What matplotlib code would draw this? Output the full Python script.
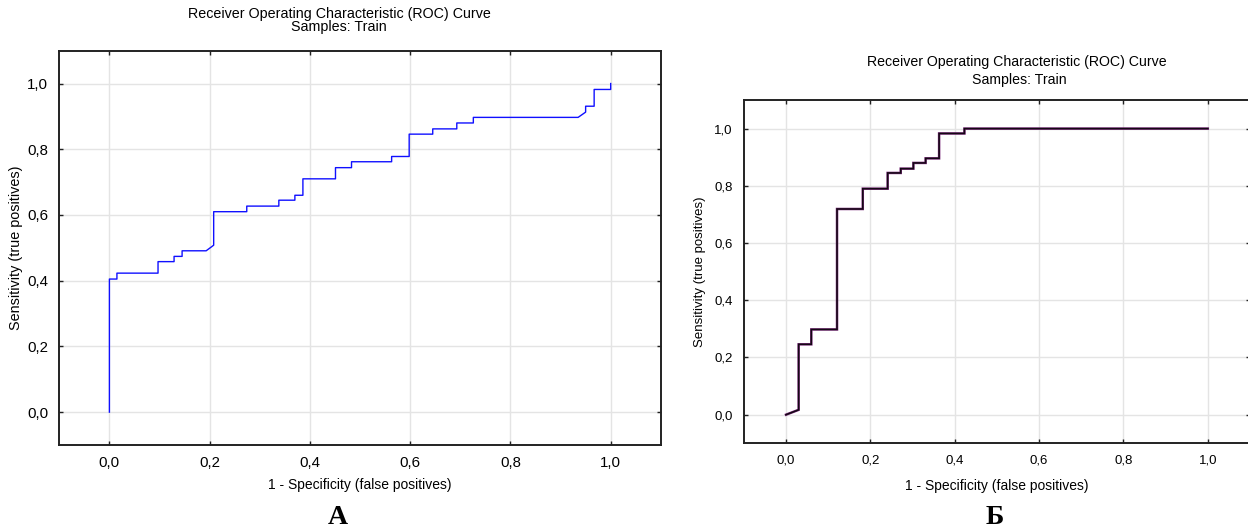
import matplotlib
matplotlib.use('Agg')
import matplotlib.pyplot as plt
from matplotlib import font_manager
from matplotlib.ticker import FuncFormatter

# ---------------- data ----------------
# panel A: step ROC curve (blue)
fpr_a = [0.0, 0.0, 0.015, 0.015, 0.097, 0.097, 0.129, 0.129, 0.145, 0.145,
         0.193, 0.208, 0.208, 0.274, 0.274, 0.338, 0.338, 0.370, 0.370, 0.386,
         0.386, 0.451, 0.451, 0.483, 0.483, 0.563, 0.563, 0.598, 0.598, 0.645,
         0.645, 0.693, 0.693, 0.726, 0.726, 0.935, 0.950, 0.950, 0.967, 0.967,
         1.0, 1.0]
tpr_a = [0.0, 0.405, 0.405, 0.423, 0.423, 0.458, 0.458, 0.474, 0.474, 0.491,
         0.491, 0.508, 0.610, 0.610, 0.627, 0.627, 0.645, 0.645, 0.660, 0.660,
         0.710, 0.710, 0.744, 0.744, 0.762, 0.762, 0.778, 0.778, 0.846, 0.846,
         0.862, 0.862, 0.880, 0.880, 0.897, 0.897, 0.913, 0.931, 0.931, 0.982,
         0.982, 1.0]

# panel Б: step ROC curve (dark)
fpr_b = [0.0, 0.030, 0.030, 0.060, 0.060, 0.121, 0.121, 0.182, 0.182, 0.241,
         0.241, 0.272, 0.272, 0.302, 0.302, 0.331, 0.331, 0.363, 0.363, 0.423,
         0.423, 1.0]
tpr_b = [0.0, 0.017, 0.246, 0.246, 0.298, 0.298, 0.719, 0.719, 0.790, 0.790,
         0.845, 0.845, 0.860, 0.860, 0.880, 0.880, 0.896, 0.896, 0.983, 0.983,
         1.0, 1.0]

ticks = [0.0, 0.2, 0.4, 0.6, 0.8, 1.0]
title_1 = 'Receiver Operating Characteristic (ROC) Curve'
title_2 = 'Samples: Train'
x_label = '1 - Specificity (false positives)'
y_label = 'Sensitivity (true positives)'
panel_labels = ['А', 'Б']

# ---------------- fonts ----------------
installed = {f.name for f in font_manager.fontManager.ttflist}
narrow = 'Liberation Sans Narrow' if 'Liberation Sans Narrow' in installed else 'Liberation Sans'
plain = 'Liberation Sans'

comma = FuncFormatter(lambda v, pos: f'{v:.1f}'.replace('.', ','))


def style_axes(ax, font, size):
    ax.set_xlim(-0.1, 1.1)
    ax.set_ylim(-0.1, 1.1)
    ax.set_xticks(ticks)
    ax.set_yticks(ticks)
    ax.xaxis.set_major_formatter(comma)
    ax.yaxis.set_major_formatter(comma)
    ax.grid(True, color='#e4e4e4', linewidth=1.0)
    ax.set_axisbelow(True)
    ax.tick_params(direction='in', length=3, width=1, color='#222222',
                   top=True, right=True, labelsize=size, pad=8)
    for lab in ax.get_xticklabels() + ax.get_yticklabels():
        lab.set_family(font)
    for sp in ax.spines.values():
        sp.set_linewidth(1.4)
        sp.set_color('#222222')


fig = plt.figure(figsize=(12.48, 5.29), dpi=100)

# ---- panel A ----
ax1 = fig.add_axes([0.0475, 0.1588, 0.482, 0.7454])
ax1.plot(fpr_a, tpr_a, color='#1010ff', linewidth=1.0)
style_axes(ax1, narrow, 10.8)
ax1.set_xlabel(x_label, family=narrow, fontsize=10, labelpad=6)
ax1.set_ylabel(y_label, family=narrow, fontsize=10.4, labelpad=3)
fig.text(339 / 1248, 1 - 14 / 529, title_1, family=narrow, fontsize=10.3,
         ha='center', va='center')
fig.text(339 / 1248, 1 - 27 / 529, title_2, family=narrow, fontsize=10.3,
         ha='center', va='center')
fig.text(338 / 1248, 1 - 517 / 529, panel_labels[0], family='Liberation Serif',
         fontweight='bold', fontsize=20, ha='center', va='center')

# ---- panel Б ----
ax2 = fig.add_axes([0.596, 0.162, 0.4056, 0.649])
ax2.plot(fpr_b, tpr_b, color='#7a2a7a', linewidth=1.8, solid_joinstyle='miter')
ax2.plot(fpr_b, tpr_b, color='#140814', linewidth=1.1, solid_joinstyle='miter')
style_axes(ax2, plain, 9.5)
ax2.set_xlabel(x_label, family=plain, fontsize=10, labelpad=9)
ax2.set_ylabel(y_label, family=plain, fontsize=9.5, labelpad=6)
fig.text(1017 / 1248, 1 - 62 / 529, title_1, family=plain, fontsize=10.2,
         ha='center', va='center')
fig.text(1019 / 1248, 1 - 80 / 529, title_2, family=plain, fontsize=10.2,
         ha='center', va='center')
fig.text(995 / 1248, 1 - 517 / 529, panel_labels[1], family='Liberation Serif',
         fontweight='bold', fontsize=20, ha='center', va='center')

fig.savefig('out.png', dpi=100)
